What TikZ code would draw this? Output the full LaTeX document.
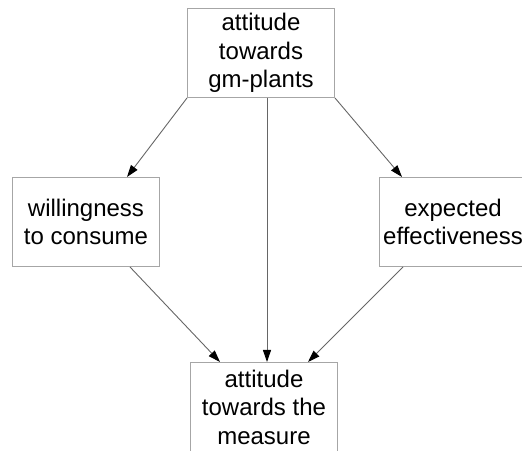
\documentclass[tikz,border=0pt]{standalone}
\usepackage{fontspec}
\setmainfont{Liberation Sans}
\usetikzlibrary{arrows.meta}

\begin{document}
\begin{tikzpicture}[x=1pt,y=1pt,
  box/.style={draw=black!35, line width=1pt, minimum width=147pt, minimum height=89pt,
    align=center, inner sep=0pt, font=\fontsize{24}{28.5}\selectfont},
  link/.style={draw=black!60, line width=0.9pt, -{Triangle[length=12pt,width=8pt,color=black]}}]
  \useasboundingbox (0,0) rectangle (522,450);
  \node[box] (gm) at (261,397) {attitude\\towards\\gm-plants};
  \node[box] (consume) at (86,228) {willingness\\to consume};
  \node[box] (effect) at (453,228) {expected\\effectiveness};
  \node[box] (measure) at (264,43) {attitude\\towards the\\measure};
  \draw[link] (gm.south west) -- ([xshift=41pt]consume.north);
  \draw[link] (gm.south east) -- ([xshift=23pt]effect.north west);
  \draw[link] ([xshift=6pt]gm.south) -- ([xshift=3pt]measure.north);
  \draw[link] ([xshift=44pt]consume.south) -- ([xshift=-44pt]measure.north);
  \draw[link] ([xshift=24pt]effect.south west) -- ([xshift=44pt]measure.north);
\end{tikzpicture}
\end{document}
